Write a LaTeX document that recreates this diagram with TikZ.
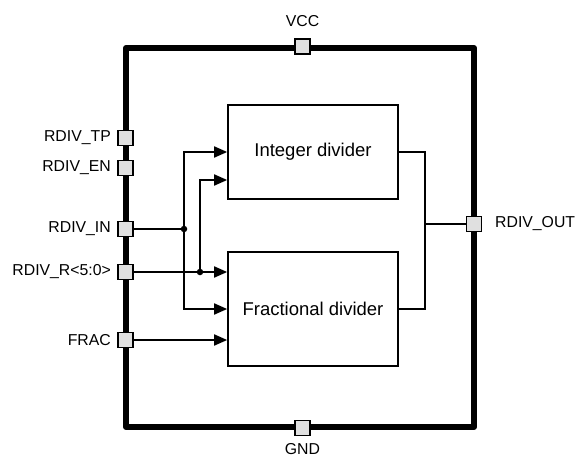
\documentclass[tikz,border=0pt]{standalone}
\usepackage{fontspec}
\setmainfont{Liberation Sans}
\usetikzlibrary{arrows.meta}
\definecolor{pinfill}{HTML}{E0E0E0}
\begin{document}
\begin{tikzpicture}[x=1pt,y=-1pt,
  pinbox/.style={draw=black, line width=1.4pt, fill=pinfill, minimum size=15pt, inner sep=0pt},
  block/.style={draw, line width=1.7pt, minimum width=170pt, inner sep=0pt, font=\fontsize{18.5}{20}\selectfont},
  lbl/.style={font=\fontsize{15.8}{18}\selectfont, inner sep=0pt},
  wire/.style={line width=1.8pt},
  arr/.style={wire, -{Triangle[length=13pt,width=11pt]}},
  jdot/.style={circle, fill, inner sep=0pt, minimum size=6.5pt}]
\useasboundingbox (0,0) rectangle (577,457);
% chip frame
\node[draw, line width=6pt, line join=round, minimum width=348pt, minimum height=379pt, inner sep=0pt] (chip) at (300,237.5) {};
% blocks
\node[block, minimum height=94pt] (int) at (313,152) {Integer divider};
\node[block, minimum height=114pt] (frac) at (313,309) {Fractional divider};
% pins
\node[pinbox] (vcc) at (302.5,46.5) {};
\node[pinbox] (gnd) at (302.5,428) {};
\node[pinbox] (tp) at (125.5,138) {};
\node[pinbox] (en) at (125.5,168) {};
\node[pinbox] (in) at (125.5,229) {};
\node[pinbox] (r) at (125.5,272) {};
\node[pinbox] (fr) at (125.5,340) {};
\node[pinbox] (out) at (474,224) {};
% labels
\node[lbl, anchor=base] (lvcc) at (302.5,27) {VCC};
\node[lbl, anchor=north] (lgnd) at (302.5,443.5) {GND};
\node[lbl, anchor=east] (ltp) at (111,138) {RDIV\_TP};
\node[lbl, anchor=east] (len) at (111,168) {RDIV\_EN};
\node[lbl, anchor=east] (lin) at (111,229) {RDIV\_IN};
\node[lbl, anchor=east] (lr) at (111,272) {RDIV\_R<5:0>};
\node[lbl, anchor=east] (lfr) at (111,340) {FRAC};
\node[lbl, anchor=west] (lout) at (495,224) {RDIV\_OUT};
% junctions
\coordinate (jin) at (184,229);
\coordinate (jr) at (200,272);
\coordinate (mo) at (425,224);
\node[jdot] (din) at (jin) {};
\node[jdot] (dr) at (jr) {};
% input wiring
\draw[wire] (in.east) -- (din.center);
\draw[arr] (din.center) |- (int.west |- 0,152);
\draw[arr] (din.center) |- (frac.west |- 0,309);
\draw[arr] (r.east) -- (frac.west |- r.east);
\draw[arr] (dr.center) |- (int.west |- 0,180);
\draw[arr] (fr.east) -- (frac.west |- fr.east);
% output wiring
\draw[wire] (int.east) -| (mo) |- (frac.east);
\draw[wire] (mo) -- (out.west);
\end{tikzpicture}
\end{document}
